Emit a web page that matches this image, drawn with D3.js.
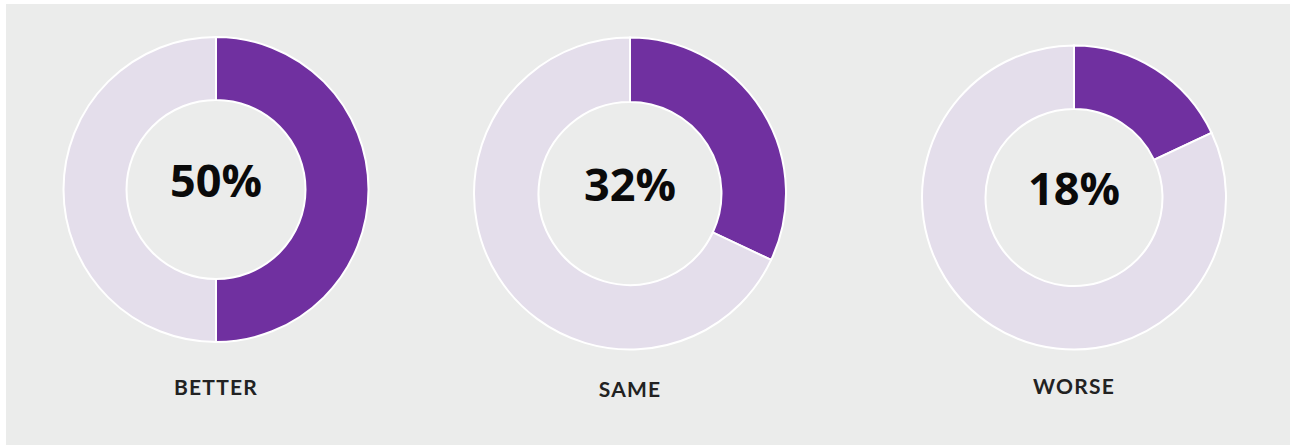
<!DOCTYPE html>
<html>
<head>
<meta charset="utf-8">
<script src="https://cdn.jsdelivr.net/npm/d3@7"></script>
<style>
  html, body { margin: 0; padding: 0; background: #ffffff; }
  svg { display: block; }
</style>
</head>
<body>
<svg id="chart" width="1290" height="445"></svg>
<script>
// data
const categories = ["BETTER", "SAME", "WORSE"];
const shares = [50, 32, 18];

const width = 1290, height = 445;
const purple = "#7030a0", pale = "#e4deeb", panelColor = "#ebeceb";

// layout of the three donuts
const donutSetting = {
  centersX: [216, 630, 1074],
  centersY: [189.5, 193.5, 197.5],
  outerR: [152.5, 156, 152],
  innerR: [89.5, 91.5, 88.5],
  labelY: [395, 397, 394],
  valueOffsetY: 7
};

const svg = d3.select("#chart");

svg.append("rect")
    .attr("x", 6).attr("y", 4)
    .attr("width", width - 6).attr("height", height - 4)
    .attr("fill", panelColor);

const pie = d3.pie().sort(null).value(d => d);

categories.forEach(function (cat, i) {
  const g = svg.append("g")
      .attr("transform", "translate(" + donutSetting.centersX[i] + "," + donutSetting.centersY[i] + ")");

  const arc = d3.arc()
      .innerRadius(donutSetting.innerR[i])
      .outerRadius(donutSetting.outerR[i]);

  g.selectAll("path")
      .data(pie([shares[i], 100 - shares[i]]))
      .join("path")
      .attr("d", arc)
      .attr("fill", (d, j) => j === 0 ? purple : pale)
      .attr("stroke", "#ffffff")
      .attr("stroke-width", 2);

  g.append("text")
      .attr("text-anchor", "middle")
      .attr("y", donutSetting.valueOffsetY)
      .attr("font-family", "'Open Sans', sans-serif")
      .attr("font-weight", 700)
      .attr("font-size", 45)
      .attr("fill", "#0a0a0a")
      .text(shares[i] + "%");

  svg.append("text")
      .attr("x", donutSetting.centersX[i])
      .attr("y", donutSetting.labelY[i])
      .attr("text-anchor", "middle")
      .attr("font-family", "Lato, sans-serif")
      .attr("font-weight", 700)
      .attr("font-size", 21)
      .attr("letter-spacing", 1.2)
      .attr("fill", "#222222")
      .text(cat);
});
</script>
</body>
</html>
